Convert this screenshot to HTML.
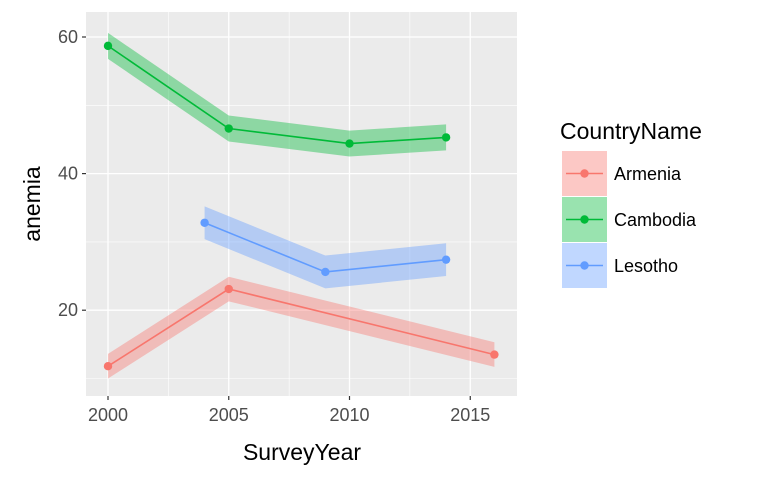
<!DOCTYPE html>
<html><head><meta charset="utf-8"><style>
body{margin:0;background:#fff;font-family:"Liberation Sans",Arial,sans-serif}
</style></head><body>
<svg id="chart" width="768" height="480" xmlns="http://www.w3.org/2000/svg">
<rect x="86" y="12" width="431" height="384" fill="#ebebeb"/>
<g id="grid"></g><g id="marks"></g><g id="axes"></g>
<text x="302" y="460" font-size="23" text-anchor="middle" fill="#000">SurveyYear</text>
<text transform="translate(40,204) rotate(-90)" font-size="23" text-anchor="middle" fill="#000">anemia</text>
<g>
<text x="560" y="139" font-size="23" fill="#000">CountryName</text>
<g id="legend"></g>
</g>
</svg>
<script>
const countries=["Armenia","Cambodia","Lesotho"];
const colors=["#F8766D","#00BA38","#619CFF"];
const armeniaYears=[2000,2005,2016];
const armeniaValues=[11.8,23.1,13.5];
const cambodiaYears=[2000,2005,2010,2014];
const cambodiaValues=[58.7,46.6,44.4,45.3];
const lesothoYears=[2004,2009,2014];
const lesothoValues=[32.8,25.6,27.4];
const bandHalf=[1.8,1.9,2.4];
const xTicks=[2000,2005,2010,2015];
const yTicks=[20,40,60];
const xMinor=[2002.5,2007.5,2012.5];
const yMinor=[10,30,50];
const NS="http://www.w3.org/2000/svg";
const px=v=>108+(v-2000)*24.15;
const py=v=>37+(60-v)*6.83;
function mk(t,a,p){const e=document.createElementNS(NS,t);for(const k in a)e.setAttribute(k,a[k]);p.appendChild(e);return e;}
const grid=document.getElementById('grid'),axes=document.getElementById('axes'),marks=document.getElementById('marks');
xMinor.forEach(v=>{const l=mk('line',{x1:px(v),x2:px(v),y1:12,y2:396,stroke:'#fff','stroke-width':0.6},grid);

});
yMinor.forEach(v=>{const l=mk('line',{x1:86,x2:517,y1:py(v),y2:py(v),stroke:'#fff','stroke-width':0.6},grid);

});
xTicks.forEach(v=>{const l=mk('line',{x1:px(v),x2:px(v),y1:12,y2:396,stroke:'#fff','stroke-width':1.3},grid);


const t=mk('line',{x1:px(v),x2:px(v),y1:396,y2:400,stroke:'#333','stroke-width':1.2},axes);


const tx=mk('text',{x:px(v),y:421,'font-size':18,'text-anchor':'middle',fill:'#4d4d4d'},axes);tx.textContent=v;

});
yTicks.forEach(v=>{const l=mk('line',{x1:86,x2:517,y1:py(v),y2:py(v),stroke:'#fff','stroke-width':1.3},grid);


const t=mk('line',{x1:82,x2:86,y1:py(v),y2:py(v),stroke:'#333','stroke-width':1.2},axes);


const tx=mk('text',{x:78,y:py(v)+6,'font-size':18,'text-anchor':'end',fill:'#4d4d4d'},axes);tx.textContent=v;

});
const series=[[armeniaYears,armeniaValues],[cambodiaYears,cambodiaValues],[lesothoYears,lesothoValues]];
series.forEach(([xs,ys],i)=>{
 const h=bandHalf[i];
 const up=xs.map((x,j)=>px(x)+','+py(ys[j]+h));
 const lo=xs.map((x,j)=>px(x)+','+py(ys[j]-h)).reverse();
 const b=mk('polygon',{points:up.concat(lo).join(' '),fill:colors[i],'fill-opacity':0.4},marks);
 
 
 const l=mk('polyline',{points:xs.map((x,j)=>px(x)+','+py(ys[j])).join(' '),fill:'none',stroke:colors[i],'stroke-width':1.6},marks);
 
 
 xs.forEach((x,j)=>{const c=mk('circle',{cx:px(x),cy:py(ys[j]),r:4.2,fill:colors[i]},marks);
 
 });
});
const lg=document.getElementById('legend');
countries.forEach((n,i)=>{const y=151+i*46;
 const r=mk('rect',{x:562,y:y,width:45,height:45,fill:colors[i],'fill-opacity':0.4},lg);
 
 
 const l=mk('line',{x1:566,x2:603,y1:y+22.5,y2:y+22.5,stroke:colors[i],'stroke-width':1.6},lg);
 
 
 const c=mk('circle',{cx:584.5,cy:y+22.5,r:4.2,fill:colors[i]},lg);
 
 
 const t=mk('text',{x:614,y:y+29,'font-size':18,fill:'#000'},lg);t.textContent=n;
 
 
});
</script>
</body></html>
